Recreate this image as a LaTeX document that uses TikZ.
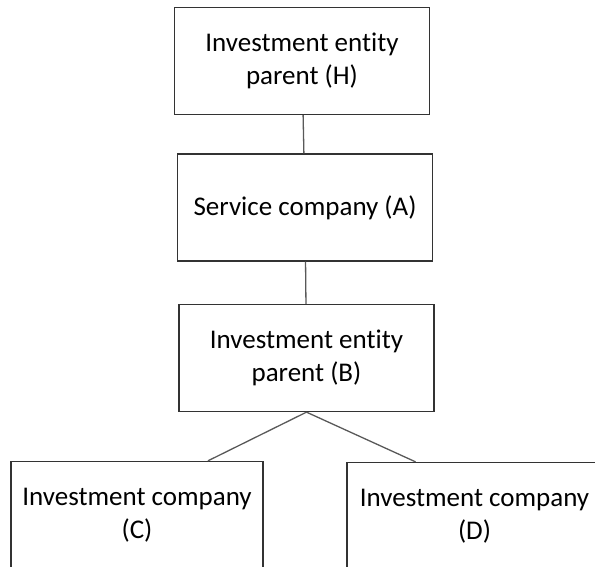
\documentclass[tikz,border=0pt]{standalone}
\usepackage{fontspec}
\setmainfont[Ligatures=NoCommon]{Carlito}
\usetikzlibrary{calc, positioning}

\tikzset{
  entity/.style={draw=black!80, line width=1.3pt, minimum width=255pt, minimum height=107pt,
    align=center, font=\fontsize{27}{33}\selectfont, inner sep=0pt},
  link/.style={draw=black!65, line width=1.3pt}
}

\begin{document}
\begin{tikzpicture}[x=1pt, y=1pt]
    \useasboundingbox (0, 0) rectangle (595, 566);
    \node[entity] (h) at (302, 505) {Investment entity\\parent (H)};
    \node[entity] (a) at (305, 358.5) {Service company (A)};
    \node[entity] (b) at (306.5, 208) {Investment entity\\parent (B)};
    \node[entity, minimum width=252pt] (c) at (137, 51) {Investment company\\(C)};
    \node[entity] (d) at (474.5, 50) {Investment company\\(D)};

    \coordinate (cin) at ($(c.north west)!0.78!(c.north east)$);
    \coordinate (din) at ($(d.north west)!0.27!(d.north east)$);

    \draw[link]
    (h) edge (a)
    (a) edge (b)
    (b.south) edge (cin)
    (b.south) edge (din);
\end{tikzpicture}
\end{document}
